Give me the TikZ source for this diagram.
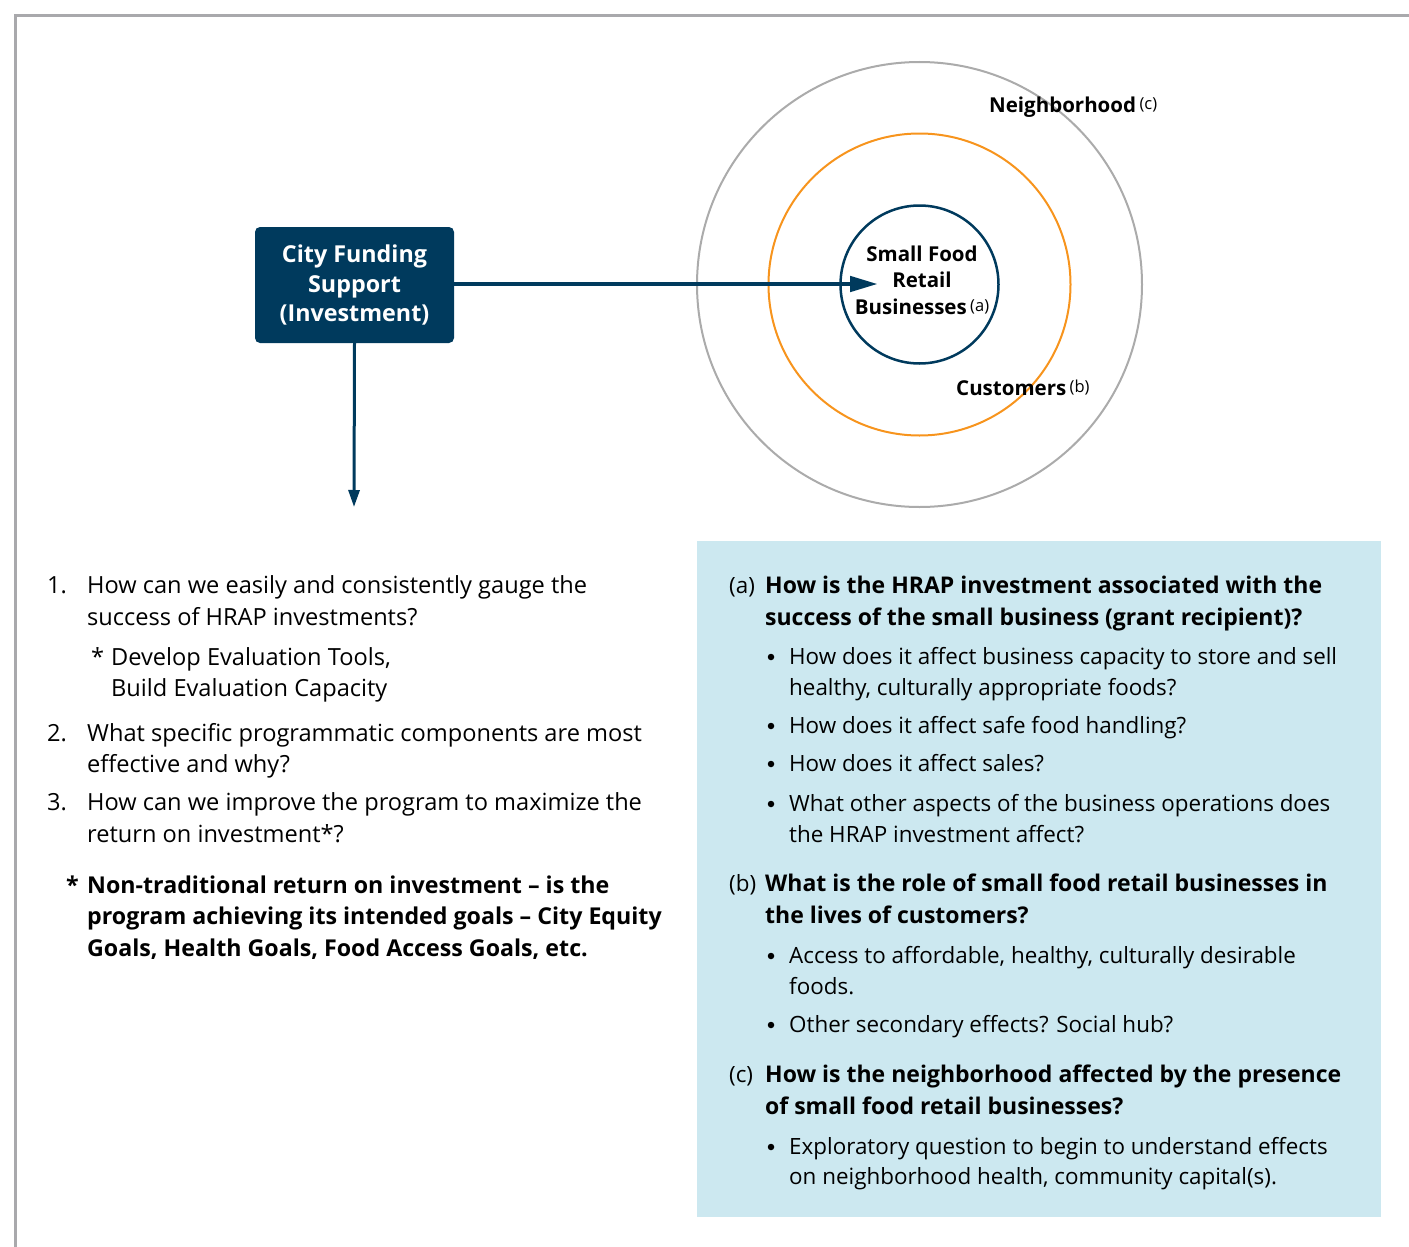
\documentclass[tikz,border=0pt]{standalone}
\usepackage{fontspec}
\setmainfont{Open Sans}
\usetikzlibrary{arrows.meta}
\definecolor{navy}{HTML}{003A5D}
\definecolor{borderg}{HTML}{A9A9AC}
\definecolor{orng}{HTML}{F7941D}
\definecolor{ringg}{HTML}{ABABAB}
\definecolor{lblue}{HTML}{CCE8F0}
\tikzset{
  txt/.style={anchor=base west, inner sep=0pt, font=\fontsize{23.6}{28}\selectfont},
  btxt/.style={txt, font=\fontsize{23.2}{28}\selectfont\bfseries},
  rtxt/.style={txt, font=\fontsize{22.4}{28}\selectfont},
  rbtxt/.style={txt, font=\fontsize{23}{28}\selectfont\bfseries},
  bul/.style={circle, fill=black, inner sep=0pt, minimum size=6.5pt},
  lbl/.style={inner sep=0pt, font=\fontsize{20.5}{26.5}\selectfont\bfseries}
}
\newcommand{\supl}[1]{\,{\fontsize{16.5}{18}\selectfont\mdseries\raisebox{2.5pt}{#1}}}
\begin{document}
\begin{tikzpicture}[x=1pt,y=-1pt]
\useasboundingbox (0,0) rectangle (1409,1247);
% page border
\draw[borderg, line width=3pt] (15,1247) -- (15,15.5) -- (1409,15.5);
% circles
\node[circle, draw=ringg, line width=2pt, minimum size=445pt, inner sep=0pt] (outer) at (919.5,284.5) {};
\node[circle, draw=orng, line width=2pt, minimum size=302pt, inner sep=0pt] (mid) at (919.5,284.5) {};
\node[circle, draw=navy, line width=2.5pt, minimum size=158pt, inner sep=0pt] (inner) at (919.5,284.5) {};
\node[lbl, align=center, anchor=center] (sfr) at (922,280) {Small Food\\Retail\\Businesses\supl{(a)}};
\node[lbl, anchor=base west] (nbh) at (989,112) {Neighborhood\supl{(c)}};
\node[lbl, anchor=base west] (cust) at (956,395) {Customers\supl{(b)}};
% funding box
\node[fill=navy, rounded corners=5pt, minimum width=199pt, minimum height=116pt, inner sep=0pt,
      text=white, align=center, font=\fontsize{23.3}{29.5}\selectfont\bfseries] (fund) at (354.5,285) {City Funding\\Support\\(Investment)};
\coordinate (harrow) at (878,284);
\coordinate (varrow) at (354,507);
\draw[navy, line width=4.7pt, -{Triangle[length=28pt,width=15pt]}] (fund.east |- harrow) -- (harrow);
\draw[navy, line width=3pt, -{Triangle[length=17pt,width=11pt]}] (fund.south) -- (varrow);
% right panel
\fill[lblue] (697,541) rectangle (1381,1217);
% left list
\node[txt] (n1) at (47,593) {1.};
\node[txt] (l1a) at (87,593) {How can we easily and consistently gauge the};
\node[txt] (l1b) at (87,625) {success of HRAP investments?};
\node[txt] (s1) at (91,665) {*};
\node[txt] (l1c) at (111,665) {Develop Evaluation Tools,};
\node[txt] (l1d) at (111,696) {Build Evaluation Capacity};
\node[txt] (n2) at (47,741) {2.};
\node[txt] (l2a) at (87,741) {What specific programmatic components are most};
\node[txt] (l2b) at (87,772) {effective and why?};
\node[txt] (n3) at (47,810) {3.};
\node[txt] (l3a) at (87,810) {How can we improve the program to maximize the};
\node[txt] (l3b) at (87,842) {return on investment*?};
\node[btxt] (s2) at (66,893) {*};
\node[btxt] (fa) at (87,893) {Non-traditional return on investment – is the};
\node[btxt] (fb) at (87,924) {program achieving its intended goals – City Equity};
\node[btxt] (fc) at (87,956) {Goals, Health Goals, Food Access Goals, etc.};
% right text
\node[rtxt] (qa) at (729,593) {(a)};
\node[rbtxt] (qa1) at (765,593) {How is the HRAP investment associated with the};
\node[rbtxt] (qa2) at (765,625) {success of the small business (grant recipient)?};
\node[bul] (ba1) at (771,657) {};
\node[rtxt] (ta1) at (789,664) {How does it affect business capacity to store and sell};
\node[rtxt] (ta1b) at (789,695) {healthy, culturally appropriate foods?};
\node[bul] (ba2) at (771,726) {};
\node[rtxt] (ta2) at (789,733) {How does it affect safe food handling?};
\node[bul] (ba3) at (771,764) {};
\node[rtxt] (ta3) at (789,771) {How does it affect sales?};
\node[bul] (ba4) at (771,804) {};
\node[rtxt] (ta4) at (789,811) {What other aspects of the business operations does};
\node[rtxt] (ta4b) at (789,842) {the HRAP investment affect?};
\node[rtxt] (qb) at (729,891) {(b)};
\node[rbtxt] (qb1) at (765,891) {What is the role of small food retail businesses in};
\node[rbtxt] (qb2) at (765,923) {the lives of customers?};
\node[bul] (bb1) at (771,956) {};
\node[rtxt] (tb1) at (789,963) {Access to affordable, healthy, culturally desirable};
\node[rtxt] (tb1b) at (789,994) {foods.};
\node[bul] (bb2) at (771,1025) {};
\node[rtxt] (tb2) at (789,1032) {Other secondary effects? Social hub?};
\node[rtxt] (qc) at (729,1082) {(c)};
\node[rbtxt] (qc1) at (765,1082) {How is the neighborhood affected by the presence};
\node[rbtxt] (qc2) at (765,1114) {of small food retail businesses?};
\node[bul] (bc1) at (771,1147) {};
\node[rtxt] (tc1) at (789,1154) {Exploratory question to begin to understand effects};
\node[rtxt] (tc1b) at (789,1184) {on neighborhood health, community capital(s).};
\end{tikzpicture}
\end{document}
